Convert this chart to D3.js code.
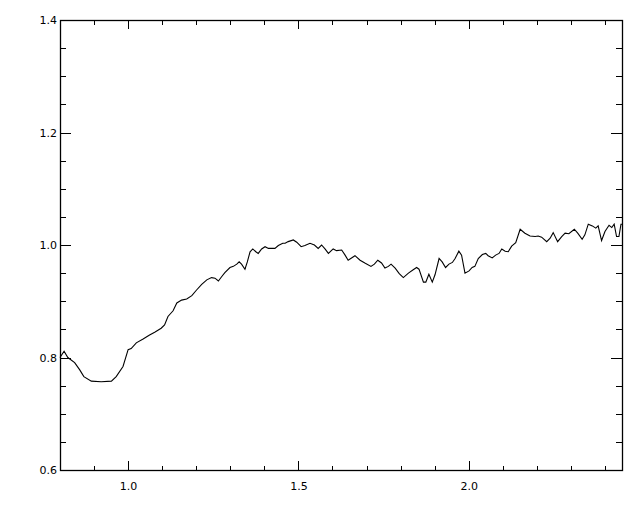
<!DOCTYPE html>
<html>
<head>
<meta charset="utf-8">
<script src="https://cdn.jsdelivr.net/npm/d3@7"></script>
<style>
  body { margin: 0; background: #fff; }
  svg { display: block; }
  .tick text { font-family: "DejaVu Sans", sans-serif; font-size: 11px; fill: #000; }
</style>
</head>
<body>
<script>
/* Data */

var xVals = [0.800, 0.812, 0.823, 0.843, 0.858, 0.870, 0.892, 0.921, 0.951, 0.965,
  0.985, 1.000, 1.009, 1.024, 1.044, 1.063, 1.078, 1.097, 1.107, 1.117,
  1.132, 1.143, 1.157, 1.172, 1.187, 1.201, 1.216, 1.231, 1.245, 1.255,
  1.265, 1.275, 1.284, 1.299, 1.309, 1.319, 1.326, 1.333, 1.343, 1.350,
  1.358, 1.366, 1.375, 1.382, 1.392, 1.402, 1.412, 1.431, 1.441, 1.454,
  1.461, 1.470, 1.485, 1.495, 1.508, 1.519, 1.534, 1.547, 1.558, 1.568,
  1.578, 1.588, 1.602, 1.612, 1.627, 1.637, 1.646, 1.666, 1.681, 1.695,
  1.713, 1.723, 1.733, 1.744, 1.754, 1.764, 1.772, 1.784, 1.796, 1.808,
  1.823, 1.837, 1.847, 1.854, 1.867, 1.874, 1.883, 1.893, 1.901, 1.913,
  1.922, 1.932, 1.942, 1.952, 1.960, 1.971, 1.979, 1.989, 2.001, 2.010,
  2.018, 2.028, 2.040, 2.050, 2.057, 2.069, 2.079, 2.089, 2.097, 2.107,
  2.116, 2.126, 2.138, 2.151, 2.165, 2.180, 2.195, 2.204, 2.214, 2.229,
  2.239, 2.248, 2.261, 2.273, 2.283, 2.294, 2.310, 2.320, 2.333, 2.341,
  2.351, 2.363, 2.373, 2.380, 2.390, 2.400, 2.412, 2.420, 2.427, 2.434,
  2.441, 2.447, 2.450];

var yVals = [0.800, 0.811, 0.800, 0.791, 0.778, 0.766, 0.758, 0.757, 0.758, 0.766,
  0.784, 0.814, 0.816, 0.826, 0.833, 0.840, 0.845, 0.852, 0.858, 0.873,
  0.883, 0.897, 0.902, 0.904, 0.910, 0.920, 0.930, 0.938, 0.942, 0.941,
  0.936, 0.944, 0.951, 0.960, 0.962, 0.966, 0.970, 0.966, 0.957, 0.970,
  0.988, 0.993, 0.988, 0.985, 0.993, 0.997, 0.994, 0.994, 0.999, 1.003,
  1.003, 1.006, 1.009, 1.005, 0.997, 0.999, 1.003, 1.000, 0.994, 1.000,
  0.993, 0.985, 0.993, 0.990, 0.991, 0.982, 0.973, 0.981, 0.973, 0.968,
  0.962, 0.966, 0.973, 0.968, 0.959, 0.962, 0.966, 0.959, 0.949, 0.942,
  0.950, 0.956, 0.960, 0.957, 0.934, 0.934, 0.948, 0.934, 0.947, 0.976,
  0.970, 0.960, 0.966, 0.969, 0.976, 0.989, 0.982, 0.950, 0.954, 0.960,
  0.962, 0.976, 0.983, 0.985, 0.981, 0.977, 0.982, 0.985, 0.993, 0.989,
  0.988, 0.998, 1.004, 1.028, 1.021, 1.016, 1.015, 1.016, 1.014, 1.006,
  1.012, 1.022, 1.006, 1.015, 1.021, 1.020, 1.028, 1.021, 1.010, 1.018,
  1.037, 1.034, 1.030, 1.034, 1.008, 1.024, 1.035, 1.031, 1.037, 1.015,
  1.015, 1.037, 1.037];

var xMajor = [1.0, 1.5, 2.0];
var xMinor = [0.9, 1.0, 1.1, 1.2, 1.3, 1.4, 1.5, 1.6, 1.7, 1.8, 1.9, 2.0, 2.1, 2.2, 2.3, 2.4];
var yMajor = [0.6, 0.8, 1.0, 1.2, 1.4];
var yMinor = [0.65, 0.7, 0.75, 0.85, 0.9, 0.95, 1.05, 1.1, 1.15, 1.25, 1.3, 1.35];

/* Chart */

var width = 640, height = 512;
var plotL = 60, plotR = 622, plotT = 20, plotB = 470;

var svg = d3.select("body")
    .append("svg")
    .attr("width", width)
    .attr("height", height);

var x = d3.scaleLinear().domain([0.8, 2.45]).range([plotL, plotR]);
var y = d3.scaleLinear().domain([0.6, 1.4]).range([plotB, plotT]);

var fmt = d3.format(".1f");

function addAxis(axis, tx, ty) {
    var g = svg.append("g")
        .attr("transform", "translate(" + tx + "," + ty + ")")
        .attr("shape-rendering", "crispEdges")
        .call(axis);
    g.select(".domain").remove();
    g.selectAll("line").attr("stroke", "#000");
    return g;
}

// bottom
addAxis(d3.axisBottom(x).tickValues(xMinor).tickSize(-4.5).tickFormat(""), 0, plotB);
addAxis(d3.axisBottom(x).tickValues(xMajor).tickSize(-9).tickPadding(12).tickFormat(fmt), 0, plotB);
// top
addAxis(d3.axisTop(x).tickValues(xMinor).tickSize(-4.5).tickFormat(""), 0, plotT);
addAxis(d3.axisTop(x).tickValues(xMajor).tickSize(-9).tickFormat(""), 0, plotT);
// left
addAxis(d3.axisLeft(y).tickValues(yMinor).tickSize(-5.6).tickFormat(""), plotL, 0);
addAxis(d3.axisLeft(y).tickValues(yMajor).tickSize(-11).tickPadding(3).tickFormat(fmt), plotL, 0);
// right
addAxis(d3.axisRight(y).tickValues(yMinor).tickSize(-5.6).tickFormat(""), plotR, 0);
addAxis(d3.axisRight(y).tickValues(yMajor).tickSize(-11).tickFormat(""), plotR, 0);

// frame
svg.append("rect")
    .attr("x", plotL + 0.5)
    .attr("y", plotT + 0.5)
    .attr("width", plotR - plotL)
    .attr("height", plotB - plotT)
    .attr("fill", "none")
    .attr("stroke", "#000")
    .attr("stroke-width", 1.3);

var line = d3.line()
    .x(function(d, i) { return x(xVals[i]); })
    .y(function(d, i) { return y(yVals[i]); });

svg.append("path")
    .datum(xVals)
    .attr("d", line)
    .attr("fill", "none")
    .attr("stroke", "#000")
    .attr("stroke-width", 1.1);
</script>
</body>
</html>
